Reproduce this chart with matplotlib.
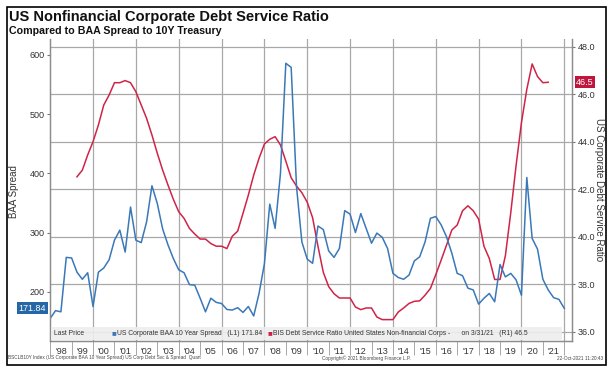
import numpy as np
import matplotlib
matplotlib.use("Agg")
import matplotlib.pyplot as plt
from matplotlib.patches import Rectangle

plt.rcParams['font.family'] = ['Liberation Sans', 'DejaVu Sans']

# quarterly data, plotted at quarter end (first BAA point = Q4 1997)
baa_start = 1998.0
baa_spread = [155, 168, 166, 258, 257, 233, 221, 232, 175, 233,
              240, 254, 287, 304, 267, 343, 287, 283, 318, 379,
              349, 306, 279, 256, 237, 232, 212, 211, 189, 166,
              189, 182, 180, 170, 169, 173, 165, 175, 159, 197,
              247, 348, 307, 400, 586, 579, 377, 284, 255, 248,
              311, 305, 269, 258, 273, 337, 331, 300, 332, 307,
              282, 299, 292, 273, 231, 224, 221, 228, 252, 259,
              284, 324, 327, 313, 293, 265, 231, 227, 206, 203,
              179, 189, 197, 183, 246, 225, 231, 220, 194, 393,
              290, 272, 221, 203, 190, 187, 171.84]

dsr_start = 1999.25
dsr = [42.52, 42.80, 43.44, 44.00, 44.70, 45.54, 45.96, 46.48, 46.48, 46.57,
       46.48, 46.10, 45.54, 44.98, 44.28, 43.51, 42.80, 42.17, 41.57, 41.05,
       40.77, 40.35, 40.11, 39.90, 39.90, 39.71, 39.60, 39.60, 39.50, 40.02,
       40.23, 40.98, 41.75, 42.59, 43.30, 43.90, 44.10, 44.21, 43.86, 43.18,
       42.48, 42.13, 41.85, 41.45, 40.80, 39.60, 38.50, 37.90, 37.60, 37.42,
       37.42, 37.42, 37.04, 36.93, 37.00, 37.00, 36.62, 36.51, 36.51, 36.51,
       36.83, 37.00, 37.19, 37.28, 37.30, 37.54, 37.82, 38.40, 39.01, 39.64,
       40.28, 40.49, 41.09, 41.30, 41.09, 40.74, 39.60, 39.08, 38.20, 38.20,
       39.20, 41.00, 43.00, 44.80, 46.20, 47.27, 46.74, 46.48, 46.50]

years = list(range(1998, 2022))
year_labels = ["'%02d" % (y % 100) for y in years]
left_ticks = [200, 300, 400, 500, 600]
right_ticks = [36, 38, 40, 42, 44, 46, 48]

blue = '#3a78b8'
red = '#cf2448'
grid_c = '#a8a8a8'
txt_c = '#333333'

W, H = 614, 369
fig = plt.figure(figsize=(W / 100, H / 100), dpi=100)


def px(x, y):
    return x / W, 1 - y / H


# outer frame
fig.patches.append(Rectangle(px(7, 365), 599 / W, 358 / H, transform=fig.transFigure,
                             fill=False, edgecolor='black', linewidth=1.2))

fig.text(*px(9, 17), 'US Nonfinancial Corporate Debt Service Ratio',
         fontsize=10.5, fontweight='bold', color='#111111', va='center')
fig.text(*px(9, 31), 'Compared to BAA Spread to 10Y Treasury',
         fontsize=7.7, fontweight='bold', color='#111111', va='center')

ax = fig.add_axes([50.2 / W, 28 / H, (572 - 50.2) / W, 302 / H])
axl = ax.twinx()

# right axis (debt service ratio) carries the grid
ax.plot(dsr_start + 0.25 * np.arange(len(dsr)), dsr, color=red, lw=1.1)
ax.set_ylim(35.61, 48.32)
ax.set_xlim(1998.0, 2022.36)
ax.yaxis.tick_right()
ax.set_yticks(right_ticks)
ax.set_yticklabels(['%.1f' % v for v in right_ticks])
ax.yaxis.grid(True, color=grid_c, lw=0.9)
for yr in range(2000, 2023, 2):
    ax.axvline(yr, color=grid_c, lw=0.9, zorder=0.5)

# x axis: labels at year centres, separators at year boundaries
ax.set_xticks([y + 0.5 for y in years])
ax.set_xticklabels(year_labels)
ax.set_xticks(list(range(1998, 2023)), minor=True)
ax.tick_params(axis='x', which='major', length=0, pad=4, labelsize=6.5, labelcolor=txt_c)
ax.tick_params(axis='x', which='minor', length=10, width=0.6, color='#9a9a9a')
ax.tick_params(axis='y', length=2.5, width=0.8, color='#777777', labelsize=6.5,
               labelcolor=txt_c, pad=1.5)

# left axis (BAA spread)
axl.plot(baa_start + 0.25 * np.arange(len(baa_spread)), baa_spread, color=blue, lw=1.1)
axl.set_ylim(116.7, 627)
axl.yaxis.tick_left()
axl.set_yticks(left_ticks)
axl.tick_params(axis='y', length=2.5, width=0.8, color='#777777', labelsize=6.5,
                labelcolor=txt_c, pad=1.5)

for a in (ax, axl):
    a.spines['top'].set_visible(False)
    for s in ('left', 'right', 'bottom'):
        a.spines[s].set_color('#8c8c8c')
        a.spines[s].set_linewidth(0.9)

fig.text(*px(14, 192), 'BAA Spread', rotation=90, fontsize=7, color=txt_c,
         ha='center', va='center')
fig.text(*px(599, 190), 'US Corporate Debt Service Ratio', rotation=270, fontsize=7,
         color=txt_c, ha='center', va='center')

# last value tags
axl.annotate('%.2f' % baa_spread[-1], xy=(0, baa_spread[-1]), xycoords=axl.get_yaxis_transform(),
             xytext=(-3, 0), textcoords='offset points', ha='right', va='center',
             fontsize=6.5, color='white',
             bbox=dict(boxstyle='square,pad=0.18', fc='#2566a6', ec='none'))
ax.annotate('%.1f' % dsr[-1], xy=(1, dsr[-1]), xycoords=ax.get_yaxis_transform(),
            xytext=(3, 0), textcoords='offset points', ha='left', va='center',
            fontsize=6.5, color='white',
            bbox=dict(boxstyle='square,pad=0.18', fc='#c0163d', ec='none'))

# legend strip
fig.patches.append(Rectangle(px(51, 340), (562 - 51) / W, 13 / H, transform=fig.transFigure,
                             facecolor='#eeeeee', edgecolor='none', alpha=0.9, zorder=5))
ly = px(0, 333.5)[1]
leg_kw = dict(fontsize=4.9, color=txt_c, va='center', zorder=6)
fig.text(54 / W, ly, 'Last Price', **leg_kw)
fig.text(112 / W, ly, '■', fontsize=5.6, color=blue, va='center', zorder=6)
fig.text(117 / W, ly, 'US Corporate BAA 10 Year Spread   (L1) %.2f' % baa_spread[-1], **leg_kw)
fig.text(268 / W, ly, '■', fontsize=5.6, color=red, va='center', zorder=6)
fig.text(273 / W, ly, 'BIS Debt Service Ratio United States Non-financial Corps -'
         '      on 3/31/21   (R1) %.1f' % dsr[-1], **leg_kw)

# footer
foot_kw = dict(fontsize=3.4, color='#444444', va='center')
fig.text(*px(8, 358), 'BSCLB10Y Index (US Corporate BAA 10 Year Spread) US Corp Debt Svc & Spread  Quart', **foot_kw)
fig.text(*px(322, 358), 'Copyright\u00a9 2021 Bloomberg Finance L.P.', **foot_kw)
fig.text(*px(603, 358), '22-Oct-2021 11:20:43', ha='right', **foot_kw)

fig.savefig('out.png', dpi=100)
